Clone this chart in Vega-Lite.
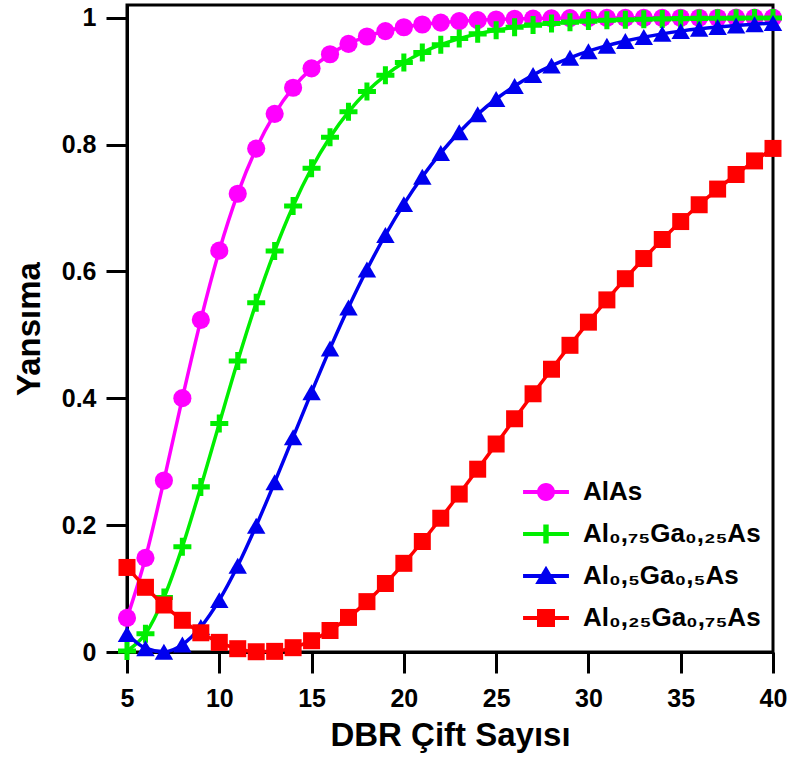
{
  "$schema": "https://vega.github.io/schema/vega-lite/v6.json",
  "width": 646,
  "height": 647,
  "autosize": {"type": "none"},
  "padding": {"left": 127, "top": 5, "right": 18, "bottom": 109},
  "background": "white",
  "config": {
    "view": {"stroke": "black", "strokeWidth": 3},
    "font": "Liberation Sans"
  },
  "data": {
    "values": [
      {"N": 5, "s": "AlAs", "R": 0.0537}, {"N": 6, "s": "AlAs", "R": 0.1483}, {"N": 7, "s": "AlAs", "R": 0.2703}, {"N": 8, "s": "AlAs", "R": 0.4002},
      {"N": 9, "s": "AlAs", "R": 0.5237}, {"N": 10, "s": "AlAs", "R": 0.6327}, {"N": 11, "s": "AlAs", "R": 0.7225}, {"N": 12, "s": "AlAs", "R": 0.7936},
      {"N": 13, "s": "AlAs", "R": 0.8484}, {"N": 14, "s": "AlAs", "R": 0.8896}, {"N": 15, "s": "AlAs", "R": 0.9201}, {"N": 16, "s": "AlAs", "R": 0.9424},
      {"N": 17, "s": "AlAs", "R": 0.9587}, {"N": 18, "s": "AlAs", "R": 0.9704}, {"N": 19, "s": "AlAs", "R": 0.9789}, {"N": 20, "s": "AlAs", "R": 0.9849},
      {"N": 21, "s": "AlAs", "R": 0.9892}, {"N": 22, "s": "AlAs", "R": 0.9923}, {"N": 23, "s": "AlAs", "R": 0.9945}, {"N": 24, "s": "AlAs", "R": 0.9961},
      {"N": 25, "s": "AlAs", "R": 0.9972}, {"N": 26, "s": "AlAs", "R": 0.998}, {"N": 27, "s": "AlAs", "R": 0.9986}, {"N": 28, "s": "AlAs", "R": 0.999},
      {"N": 29, "s": "AlAs", "R": 0.9993}, {"N": 30, "s": "AlAs", "R": 0.9995}, {"N": 31, "s": "AlAs", "R": 0.9996}, {"N": 32, "s": "AlAs", "R": 0.9997},
      {"N": 33, "s": "AlAs", "R": 0.9998}, {"N": 34, "s": "AlAs", "R": 0.9998}, {"N": 35, "s": "AlAs", "R": 0.9999}, {"N": 36, "s": "AlAs", "R": 0.9999},
      {"N": 37, "s": "AlAs", "R": 0.9999}, {"N": 38, "s": "AlAs", "R": 1}, {"N": 39, "s": "AlAs", "R": 1}, {"N": 40, "s": "AlAs", "R": 1},

      {"N": 5, "s": "Al₀,₇₅Ga₀,₂₅As", "R": 0.0016}, {"N": 6, "s": "Al₀,₇₅Ga₀,₂₅As", "R": 0.0287}, {"N": 7, "s": "Al₀,₇₅Ga₀,₂₅As", "R": 0.0858}, {"N": 8, "s": "Al₀,₇₅Ga₀,₂₅As", "R": 0.1658},
      {"N": 9, "s": "Al₀,₇₅Ga₀,₂₅As", "R": 0.2603}, {"N": 10, "s": "Al₀,₇₅Ga₀,₂₅As", "R": 0.3603}, {"N": 11, "s": "Al₀,₇₅Ga₀,₂₅As", "R": 0.4588}, {"N": 12, "s": "Al₀,₇₅Ga₀,₂₅As", "R": 0.5505},
      {"N": 13, "s": "Al₀,₇₅Ga₀,₂₅As", "R": 0.6323}, {"N": 14, "s": "Al₀,₇₅Ga₀,₂₅As", "R": 0.7031}, {"N": 15, "s": "Al₀,₇₅Ga₀,₂₅As", "R": 0.7626}, {"N": 16, "s": "Al₀,₇₅Ga₀,₂₅As", "R": 0.8116},
      {"N": 17, "s": "Al₀,₇₅Ga₀,₂₅As", "R": 0.8516}, {"N": 18, "s": "Al₀,₇₅Ga₀,₂₅As", "R": 0.8836}, {"N": 19, "s": "Al₀,₇₅Ga₀,₂₅As", "R": 0.9092}, {"N": 20, "s": "Al₀,₇₅Ga₀,₂₅As", "R": 0.9293},
      {"N": 21, "s": "Al₀,₇₅Ga₀,₂₅As", "R": 0.9451}, {"N": 22, "s": "Al₀,₇₅Ga₀,₂₅As", "R": 0.9574}, {"N": 23, "s": "Al₀,₇₅Ga₀,₂₅As", "R": 0.9671}, {"N": 24, "s": "Al₀,₇₅Ga₀,₂₅As", "R": 0.9745},
      {"N": 25, "s": "Al₀,₇₅Ga₀,₂₅As", "R": 0.9803}, {"N": 26, "s": "Al₀,₇₅Ga₀,₂₅As", "R": 0.9848}, {"N": 27, "s": "Al₀,₇₅Ga₀,₂₅As", "R": 0.9883}, {"N": 28, "s": "Al₀,₇₅Ga₀,₂₅As", "R": 0.991},
      {"N": 29, "s": "Al₀,₇₅Ga₀,₂₅As", "R": 0.993}, {"N": 30, "s": "Al₀,₇₅Ga₀,₂₅As", "R": 0.9946}, {"N": 31, "s": "Al₀,₇₅Ga₀,₂₅As", "R": 0.9959}, {"N": 32, "s": "Al₀,₇₅Ga₀,₂₅As", "R": 0.9968},
      {"N": 33, "s": "Al₀,₇₅Ga₀,₂₅As", "R": 0.9975}, {"N": 34, "s": "Al₀,₇₅Ga₀,₂₅As", "R": 0.9981}, {"N": 35, "s": "Al₀,₇₅Ga₀,₂₅As", "R": 0.9985}, {"N": 36, "s": "Al₀,₇₅Ga₀,₂₅As", "R": 0.9989},
      {"N": 37, "s": "Al₀,₇₅Ga₀,₂₅As", "R": 0.9991}, {"N": 38, "s": "Al₀,₇₅Ga₀,₂₅As", "R": 0.9993}, {"N": 39, "s": "Al₀,₇₅Ga₀,₂₅As", "R": 0.9995}, {"N": 40, "s": "Al₀,₇₅Ga₀,₂₅As", "R": 0.9996},

      {"N": 5, "s": "Al₀,₅Ga₀,₅As", "R": 0.0283}, {"N": 6, "s": "Al₀,₅Ga₀,₅As", "R": 0.0059}, {"N": 7, "s": "Al₀,₅Ga₀,₅As", "R": 0.0003}, {"N": 8, "s": "Al₀,₅Ga₀,₅As", "R": 0.0117},
      {"N": 9, "s": "Al₀,₅Ga₀,₅As", "R": 0.0395}, {"N": 10, "s": "Al₀,₅Ga₀,₅As", "R": 0.0818}, {"N": 11, "s": "Al₀,₅Ga₀,₅As", "R": 0.1359}, {"N": 12, "s": "Al₀,₅Ga₀,₅As", "R": 0.199},
      {"N": 13, "s": "Al₀,₅Ga₀,₅As", "R": 0.2676}, {"N": 14, "s": "Al₀,₅Ga₀,₅As", "R": 0.3387}, {"N": 15, "s": "Al₀,₅Ga₀,₅As", "R": 0.4096}, {"N": 16, "s": "Al₀,₅Ga₀,₅As", "R": 0.4783},
      {"N": 17, "s": "Al₀,₅Ga₀,₅As", "R": 0.5431}, {"N": 18, "s": "Al₀,₅Ga₀,₅As", "R": 0.603}, {"N": 19, "s": "Al₀,₅Ga₀,₅As", "R": 0.6574}, {"N": 20, "s": "Al₀,₅Ga₀,₅As", "R": 0.7061},
      {"N": 21, "s": "Al₀,₅Ga₀,₅As", "R": 0.7491}, {"N": 22, "s": "Al₀,₅Ga₀,₅As", "R": 0.7868}, {"N": 23, "s": "Al₀,₅Ga₀,₅As", "R": 0.8195}, {"N": 24, "s": "Al₀,₅Ga₀,₅As", "R": 0.8477},
      {"N": 25, "s": "Al₀,₅Ga₀,₅As", "R": 0.8718}, {"N": 26, "s": "Al₀,₅Ga₀,₅As", "R": 0.8923}, {"N": 27, "s": "Al₀,₅Ga₀,₅As", "R": 0.9097}, {"N": 28, "s": "Al₀,₅Ga₀,₅As", "R": 0.9244},
      {"N": 29, "s": "Al₀,₅Ga₀,₅As", "R": 0.9368}, {"N": 30, "s": "Al₀,₅Ga₀,₅As", "R": 0.9472}, {"N": 31, "s": "Al₀,₅Ga₀,₅As", "R": 0.9559}, {"N": 32, "s": "Al₀,₅Ga₀,₅As", "R": 0.9633},
      {"N": 33, "s": "Al₀,₅Ga₀,₅As", "R": 0.9694}, {"N": 34, "s": "Al₀,₅Ga₀,₅As", "R": 0.9745}, {"N": 35, "s": "Al₀,₅Ga₀,₅As", "R": 0.9788}, {"N": 36, "s": "Al₀,₅Ga₀,₅As", "R": 0.9824},
      {"N": 37, "s": "Al₀,₅Ga₀,₅As", "R": 0.9853}, {"N": 38, "s": "Al₀,₅Ga₀,₅As", "R": 0.9878}, {"N": 39, "s": "Al₀,₅Ga₀,₅As", "R": 0.9898}, {"N": 40, "s": "Al₀,₅Ga₀,₅As", "R": 0.9916},

      {"N": 5, "s": "Al₀,₂₅Ga₀,₇₅As", "R": 0.1333}, {"N": 6, "s": "Al₀,₂₅Ga₀,₇₅As", "R": 0.102}, {"N": 7, "s": "Al₀,₂₅Ga₀,₇₅As", "R": 0.0741}, {"N": 8, "s": "Al₀,₂₅Ga₀,₇₅As", "R": 0.05},
      {"N": 9, "s": "Al₀,₂₅Ga₀,₇₅As", "R": 0.0303}, {"N": 10, "s": "Al₀,₂₅Ga₀,₇₅As", "R": 0.0152}, {"N": 11, "s": "Al₀,₂₅Ga₀,₇₅As", "R": 0.0052}, {"N": 12, "s": "Al₀,₂₅Ga₀,₇₅As", "R": 0.0004},
      {"N": 13, "s": "Al₀,₂₅Ga₀,₇₅As", "R": 0.001}, {"N": 14, "s": "Al₀,₂₅Ga₀,₇₅As", "R": 0.0068}, {"N": 15, "s": "Al₀,₂₅Ga₀,₇₅As", "R": 0.0178}, {"N": 16, "s": "Al₀,₂₅Ga₀,₇₅As", "R": 0.0339},
      {"N": 17, "s": "Al₀,₂₅Ga₀,₇₅As", "R": 0.0545}, {"N": 18, "s": "Al₀,₂₅Ga₀,₇₅As", "R": 0.0794}, {"N": 19, "s": "Al₀,₂₅Ga₀,₇₅As", "R": 0.108}, {"N": 20, "s": "Al₀,₂₅Ga₀,₇₅As", "R": 0.1398},
      {"N": 21, "s": "Al₀,₂₅Ga₀,₇₅As", "R": 0.1742}, {"N": 22, "s": "Al₀,₂₅Ga₀,₇₅As", "R": 0.2109}, {"N": 23, "s": "Al₀,₂₅Ga₀,₇₅As", "R": 0.249}, {"N": 24, "s": "Al₀,₂₅Ga₀,₇₅As", "R": 0.2882},
      {"N": 25, "s": "Al₀,₂₅Ga₀,₇₅As", "R": 0.3279}, {"N": 26, "s": "Al₀,₂₅Ga₀,₇₅As", "R": 0.3677}, {"N": 27, "s": "Al₀,₂₅Ga₀,₇₅As", "R": 0.4071}, {"N": 28, "s": "Al₀,₂₅Ga₀,₇₅As", "R": 0.4458},
      {"N": 29, "s": "Al₀,₂₅Ga₀,₇₅As", "R": 0.4835}, {"N": 30, "s": "Al₀,₂₅Ga₀,₇₅As", "R": 0.52}, {"N": 31, "s": "Al₀,₂₅Ga₀,₇₅As", "R": 0.5551}, {"N": 32, "s": "Al₀,₂₅Ga₀,₇₅As", "R": 0.5885},
      {"N": 33, "s": "Al₀,₂₅Ga₀,₇₅As", "R": 0.6203}, {"N": 34, "s": "Al₀,₂₅Ga₀,₇₅As", "R": 0.6503}, {"N": 35, "s": "Al₀,₂₅Ga₀,₇₅As", "R": 0.6786}, {"N": 36, "s": "Al₀,₂₅Ga₀,₇₅As", "R": 0.7051},
      {"N": 37, "s": "Al₀,₂₅Ga₀,₇₅As", "R": 0.7298}, {"N": 38, "s": "Al₀,₂₅Ga₀,₇₅As", "R": 0.7528}, {"N": 39, "s": "Al₀,₂₅Ga₀,₇₅As", "R": 0.7742}, {"N": 40, "s": "Al₀,₂₅Ga₀,₇₅As", "R": 0.7939}
    ]
  },
  "encoding": {
    "x": {
      "field": "N", "type": "quantitative",
      "scale": {"domain": [5, 40], "nice": false, "zero": false},
      "axis": {
        "title": "DBR Çift Sayısı", "values": [5, 10, 15, 20, 25, 30, 35, 40],
        "grid": false, "labelFlush": false, "labelOverlap": false,
        "domainColor": "black", "domainWidth": 3, "tickColor": "black", "tickWidth": 3, "tickSize": 21,
        "labelFont": "Liberation Sans", "labelFontSize": 25, "labelFontWeight": "bold", "labelColor": "black", "labelPadding": 13,
        "titleFont": "Liberation Sans", "titleFontSize": 33, "titleFontWeight": "bold", "titleColor": "black", "titlePadding": 8
      }
    },
    "y": {
      "field": "R", "type": "quantitative",
      "scale": {"domain": [0, 1.02], "nice": false, "zero": false},
      "axis": {
        "title": "Yansıma", "values": [0, 0.2, 0.4, 0.6, 0.8, 1], "format": "~g",
        "grid": false, "labelFlush": false, "labelOverlap": false,
        "domainColor": "black", "domainWidth": 3, "tickColor": "black", "tickWidth": 3, "tickSize": 21,
        "labelFont": "Liberation Sans", "labelFontSize": 25, "labelFontWeight": "bold", "labelColor": "black", "labelPadding": 10,
        "titleFont": "Liberation Sans", "titleFontSize": 33, "titleFontWeight": "bold", "titleColor": "black", "titlePadding": 15
      }
    }
  },
  "layer": [
    {
      "transform": [{"filter": {"field": "s", "equal": "AlAs"}}],
      "layer": [
        {"mark": {"type": "line", "color": "#FF00FF", "strokeWidth": 3.5, "interpolate": "monotone", "clip": false}, "encoding": {}},
        {"mark": {"type": "point", "shape": "circle", "filled": true, "opacity": 1, "color": "#FF00FF", "size": 330, "clip": false}, "encoding": {}}
      ]
    },
    {
      "transform": [{"filter": {"field": "s", "equal": "Al₀,₇₅Ga₀,₂₅As"}}],
      "layer": [
        {"mark": {"type": "line", "color": "#00EE00", "strokeWidth": 3.5, "interpolate": "monotone", "clip": false}, "encoding": {}},
        {"mark": {"type": "point", "shape": "M-0.28,-1H0.28V-0.28H1V0.28H0.28V1H-0.28V0.28H-1V-0.28H-0.28Z", "filled": true, "opacity": 1, "color": "#00EE00", "size": 324, "clip": false}, "encoding": {}}
      ]
    },
    {
      "transform": [{"filter": {"field": "s", "equal": "Al₀,₅Ga₀,₅As"}}],
      "layer": [
        {"mark": {"type": "line", "color": "#0000EE", "strokeWidth": 3.5, "interpolate": "monotone", "clip": false}, "encoding": {}},
        {"mark": {"type": "point", "shape": "triangle-up", "filled": true, "opacity": 1, "color": "#0000EE", "size": 340, "clip": false}, "encoding": {}}
      ]
    },
    {
      "transform": [{"filter": {"field": "s", "equal": "Al₀,₂₅Ga₀,₇₅As"}}],
      "layer": [
        {"mark": {"type": "line", "color": "#FF0000", "strokeWidth": 3.5, "interpolate": "monotone", "clip": false}, "encoding": {}},
        {"mark": {"type": "point", "shape": "square", "filled": true, "opacity": 1, "color": "#FF0000", "size": 289, "clip": false}, "encoding": {}}
      ]
    },
    {
      "mark": {"type": "point", "filled": true, "opacity": 0, "size": 324, "clip": false},
      "encoding": {
        "color": {
          "field": "s", "type": "nominal",
          "scale": {"domain": ["AlAs", "Al₀,₇₅Ga₀,₂₅As", "Al₀,₅Ga₀,₅As", "Al₀,₂₅Ga₀,₇₅As"], "range": ["#FF00FF", "#00EE00", "#0000EE", "#FF0000"]},
          "legend": {
            "title": null, "orient": "none", "legendX": 406, "legendY": 474, "padding": 0,
            "labelOffset": 24, "rowPadding": 16, "symbolSize": 324, "symbolStrokeWidth": 0, "symbolOpacity": 1,
            "labelFont": "Liberation Sans", "labelFontSize": 26, "labelFontWeight": "bold", "labelColor": "black", "labelLimit": 400
          }
        },
        "shape": {
          "field": "s", "type": "nominal",
          "scale": {
            "domain": ["AlAs", "Al₀,₇₅Ga₀,₂₅As", "Al₀,₅Ga₀,₅As", "Al₀,₂₅Ga₀,₇₅As"],
            "range": [
              "M-2.55,-0.22H2.55V0.22H-2.55Z M1,0A1,1,0,1,1,-1,0A1,1,0,1,1,1,0Z",
              "M-2.55,-0.22H2.55V0.22H-2.55Z M-0.3,-1.05H0.3V1.05H-0.3Z",
              "M-2.55,-0.22H2.55V0.22H-2.55Z M0,-1.15L1.2,0.9L-1.2,0.9Z",
              "M-2.55,-0.22H2.55V0.22H-2.55Z M-1,-1H1V1H-1Z"
            ]
          },
          "legend": {
            "title": null, "orient": "none", "legendX": 406, "legendY": 474, "padding": 0,
            "labelOffset": 24, "rowPadding": 16, "symbolSize": 324, "symbolStrokeWidth": 0, "symbolOpacity": 1,
            "labelFont": "Liberation Sans", "labelFontSize": 26, "labelFontWeight": "bold", "labelColor": "black", "labelLimit": 400
          }
        }
      }
    }
  ]
}
